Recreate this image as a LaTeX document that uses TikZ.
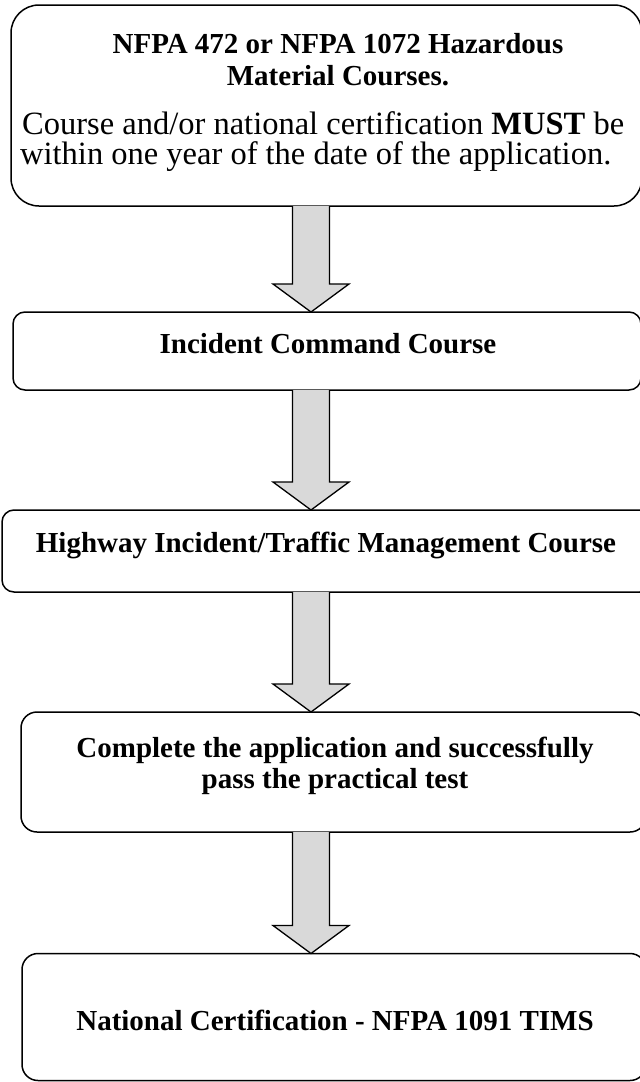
\documentclass[tikz,border=0pt]{standalone}
\usepackage{fontspec}
\setmainfont{Liberation Serif}
\usetikzlibrary{calc}
\definecolor{arrowgray}{HTML}{D9D9D9}
\tikzset{
  box/.style={draw=black, line width=1.5pt, fill=white, inner sep=0pt, outer sep=0pt},
  arrowbody/.style={draw=black, fill=arrowgray, line width=1.3pt, line join=miter},
  boldtxt/.style={font=\fontsize{29}{32}\selectfont\bfseries, inner sep=0pt, anchor=base},
  plaintxt/.style={font=\fontsize{32.5}{35}\selectfont, inner sep=0pt, anchor=base west},
}
\begin{document}
\begin{tikzpicture}[x=1pt,y=-1pt]
\useasboundingbox (0,0) rectangle (640,1082);
\clip (0,0) rectangle (640,1082);
\fill[white] (0,0) rectangle (640,1082);
% boxes
\node[box, rounded corners=28pt, minimum width=631pt, minimum height=201pt] (b1) at (326.5,105.5) {};
\node[box, rounded corners=12pt, minimum width=628pt, minimum height=78pt] (b2) at (327,351) {};
\node[box, rounded corners=12pt, minimum width=650pt, minimum height=82pt] (b3) at (327,551) {};
\node[box, rounded corners=16pt, minimum width=625pt, minimum height=120pt] (b4) at (333.5,772) {};
\node[box, rounded corners=16pt, minimum width=624pt, minimum height=127pt] (b5) at (334,1017) {};
% arrow axis
\coordinate (ax) at (311,0);
\foreach \a/\b/\n in {b1/b2/a1, b2/b3/a2, b3/b4/a3, b4/b5/a4} {
  \path (\a.south -| ax) coordinate (\n-s) (\b.north -| ax) coordinate (\n-t);
  \draw[arrowbody] ($(\n-s)+(-18.5,0)$) -- ($(\n-t)+(-18.5,-28)$) -- ($(\n-t)+(-38,-28)$)
    -- (\n-t) -- ($(\n-t)+(38,-28)$) -- ($(\n-t)+(18.5,-28)$) -- ($(\n-s)+(18.5,0)$);
}
% texts
\node[boldtxt] (t1a) at (338,53) {NFPA 472 or NFPA 1072 Hazardous};
\node[boldtxt] (t1b) at (338,85) {Material Courses.};
\node[plaintxt] (t1c) at (22,134) {Course and/or national certification \textbf{MUST} be};
\node[plaintxt] (t1d) at (20,164) {within one year of the date of the application.};
\node[boldtxt] (t2) at (328,353) {Incident Command Course};
\node[boldtxt] (t3) at (326,552) {Highway Incident/Traffic Management Course};
\node[boldtxt] (t4a) at (335,757) {Complete the application and successfully};
\node[boldtxt] (t4b) at (335,788) {pass the practical test};
\node[boldtxt] (t5) at (335,1030) {National Certification - NFPA 1091 TIMS};
\end{tikzpicture}
\end{document}
